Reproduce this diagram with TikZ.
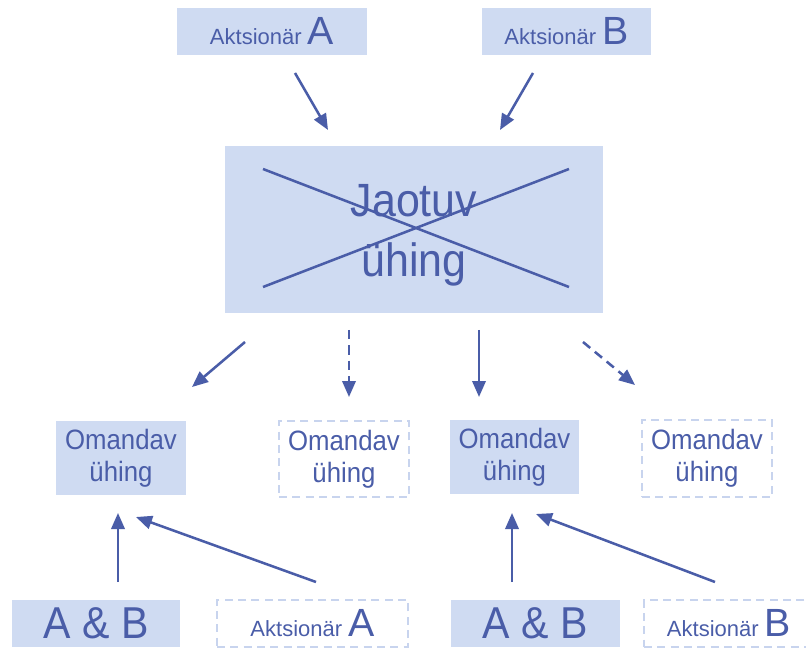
\documentclass[tikz,border=0pt]{standalone}
\usepackage{fontspec}
\setmainfont{Liberation Sans}
\newfontfamily\narrowfont[FakeStretch=0.92]{Liberation Sans}
\usetikzlibrary{arrows.meta}
\definecolor{boxfill}{RGB}{207,219,242}
\definecolor{ink}{RGB}{74,93,168}
\definecolor{dashline}{RGB}{200,212,238}
\newcommand{\smallakt}{\fontsize{16.5}{20}\selectfont}
\newcommand{\bigletter}{\fontsize{29.5}{30}\selectfont}
\begin{document}
\begin{tikzpicture}[x=0.75pt,y=-0.75pt,
  fillbox/.style={fill=boxfill, inner sep=0pt, text=ink, align=center},
  dashbox/.style={draw=dashline, line width=1.5pt, dash pattern=on 6pt off 4pt, inner sep=0pt, text=ink, align=center},
  txt/.style={inner sep=0pt, text=ink, align=center},
  arr/.style={draw=ink, line width=1.9pt, -{Triangle[length=12pt,width=10pt]}},
  darr/.style={arr, dash pattern=on 7pt off 4.5pt},
  crossline/.style={draw=ink, line width=1.9pt},
  omtext/.style={font=\narrowfont\fontsize{21}{24}\selectfont},
  abtext/.style={font=\narrowfont\fontsize{33.5}{36}\selectfont}]
\useasboundingbox (0,0) rectangle (806,648);

% top shareholders
\node[fillbox, minimum width=142.5pt, minimum height=35.25pt] (shA) at (272,31.5) {\smallakt Aktsionär {\bigletter A}};
\node[fillbox, minimum width=126.75pt, minimum height=35.25pt] (shB) at (566.5,31.5) {\smallakt Aktsionär {\bigletter B}};

% dividing company
\node[fillbox, minimum width=283.5pt, minimum height=125.25pt] (jao) at (414,229.5) {};
\node[txt, font=\narrowfont\fontsize{35}{45}\selectfont] (jaotxt) at (414,235.5) {Jaotuv\\ühing};
\coordinate (x1) at (263,169);
\coordinate (x2) at (569,287);
\coordinate (x3) at (263,287);
\coordinate (x4) at (569,169);
\draw[crossline] (x1) -- (x2);
\draw[crossline] (x3) -- (x4);

% receiving companies
\node[fillbox, omtext, minimum width=97.5pt, minimum height=55.5pt] (om1) at (121,458) {Omandav\\ühing};
\node[dashbox, omtext, minimum width=97.5pt, minimum height=57pt] (om2) at (344,459) {Omandav\\ühing};
\node[fillbox, omtext, minimum width=96.75pt, minimum height=55.5pt] (om3) at (514.5,457) {Omandav\\ühing};
\node[dashbox, omtext, minimum width=97.5pt, minimum height=57.75pt] (om4) at (707,458.5) {Omandav\\ühing};

% bottom shareholders
\node[fillbox, abtext, minimum width=126pt, minimum height=35.25pt] (ab1) at (96,623.5) {A \& B};
\node[dashbox, minimum width=143.25pt, minimum height=35.25pt] (bA) at (312.5,623.5) {\smallakt Aktsionär {\bigletter A}};
\node[fillbox, abtext, minimum width=126.75pt, minimum height=35.25pt] (ab2) at (535.5,623.5) {A \& B};
\node[dashbox, minimum width=127.5pt, minimum height=35.25pt] (bB) at (729,623.5) {\smallakt Aktsionär {\bigletter B}};

% arrow end points
\coordinate (tA1) at (295,73);  \coordinate (tA2) at (328,130);
\coordinate (tB1) at (533,73);  \coordinate (tB2) at (500,130);
\coordinate (d11) at (245,342); \coordinate (d12) at (192,387);
\coordinate (d21) at (349,330); \coordinate (d22) at (349,397);
\coordinate (d31) at (479,330); \coordinate (d32) at (479,397);
\coordinate (d41) at (583,342); \coordinate (d42) at (635,385);
\coordinate (u11) at (118,582); \coordinate (u12) at (118,513);
\coordinate (g11) at (316,582); \coordinate (g12) at (136,517);
\coordinate (u21) at (512,582); \coordinate (u22) at (512,513);
\coordinate (g21) at (715,582); \coordinate (g22) at (536,514);

\draw[arr] (tA1) -- (tA2);
\draw[arr] (tB1) -- (tB2);
\draw[arr] (d11) -- (d12);
\draw[darr] (d21) -- (d22);
\draw[arr] (d31) -- (d32);
\draw[darr] (d41) -- (d42);
\draw[arr] (u11) -- (u12);
\draw[arr] (g11) -- (g12);
\draw[arr] (u21) -- (u22);
\draw[arr] (g21) -- (g22);
\end{tikzpicture}
\end{document}
